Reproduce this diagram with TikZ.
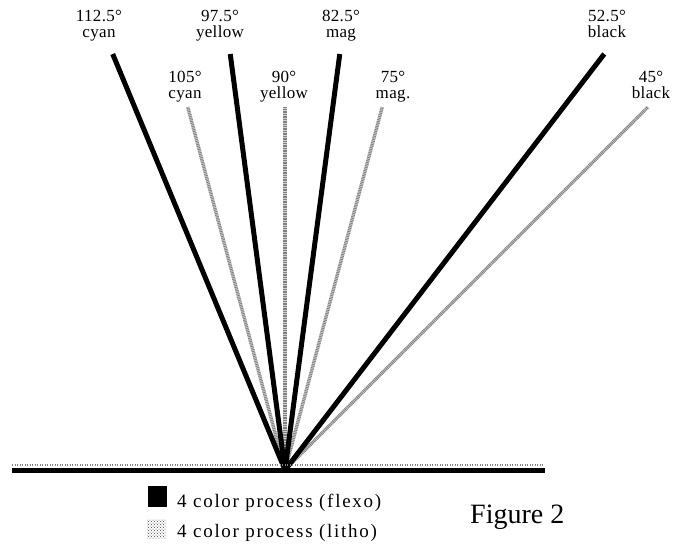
\documentclass[tikz,border=0pt]{standalone}
\usepackage{fontspec}
\setmainfont{Liberation Serif}
\usetikzlibrary{patterns}

\tikzset{
  flexo/.style={line width=5pt},
  litho/.style={draw=black!50, line width=3.4pt, dash pattern=on 0.8pt off 0.9pt,
    preaction={draw=black!18, solid, line width=3.4pt}},
  basedots/.style={draw=black!50, line width=1.6pt, dash pattern=on 0.9pt off 1.6pt},
  lbl/.style={inner sep=0pt, anchor=base, align=center,
    font=\fontsize{17}{15.5}\selectfont\addfontfeature{LetterSpace=2}},
  keytxt/.style={inner sep=0pt, anchor=base west, font=\fontsize{19}{19}\selectfont\addfontfeature{LetterSpace=9}},
  flexokey/.style={fill=black, inner sep=0pt, minimum width=19pt, minimum height=21pt},
  lithokey/.style={pattern=crosshatch dots, pattern color=black!75, inner sep=0pt, minimum width=19pt, minimum height=19pt},
}

\begin{document}
\begin{tikzpicture}[x=1pt,y=1pt]
\useasboundingbox (0,0) rectangle (684,550);
\def\hf{416}
\def\hl{363}
\coordinate (o) at (285,80);
\coordinate (bl) at (12,79.5);
\coordinate (br) at (545,79.5);
\coordinate (dl) at (12,85);
\coordinate (dr) at (543,85);

% litho screen angles
\foreach \a/\nm/\lx [count=\i] in {105/cyan/185, 90/yellow/284, 75/mag./393, 45/black/651}{
  \path (o) ++(\a:{\hl/sin(\a)}) coordinate (l\i);
  \draw[litho] (o) -- (l\i);
  \node[lbl] (la\i) at (\lx,451.5) {\a°\\\nm};
}

% flexo screen angles
\foreach \a/\nm/\lx [count=\i] in {112.5/cyan/99, 97.5/yellow/220, 82.5/mag/341, 52.5/black/607}{
  \path (o) ++(\a:{\hf/sin(\a)}) coordinate (f\i);
  \draw[flexo] (o) -- (f\i);
  \node[lbl] (fa\i) at (\lx,512.5) {\a°\\\nm};
}

\draw[basedots] (dl) -- (dr);
\draw[flexo] (bl) -- (br);

\node[flexokey] (kf) at (157.5,53.5) {};
\node[keytxt] (tf) at (177,43) {4 color process (flexo)};
\node[lithokey] (kl) at (156.5,21.5) {};
\node[keytxt] (tl) at (177,13) {4 color process (litho)};
\node[inner sep=0pt, anchor=base west, font=\fontsize{28}{28}\selectfont] (fig) at (470,27) {Figure 2};
\end{tikzpicture}
\end{document}
